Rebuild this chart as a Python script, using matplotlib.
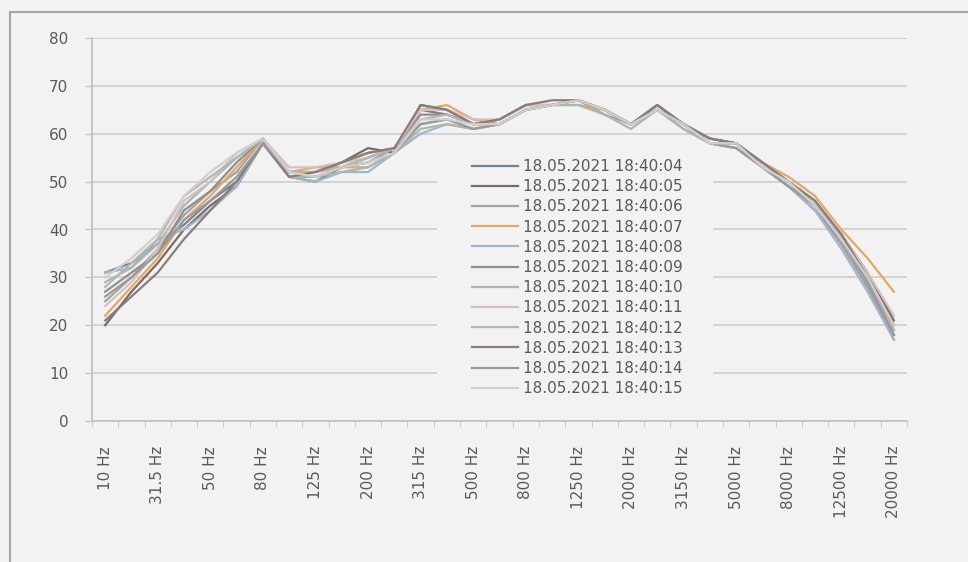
import matplotlib
matplotlib.use("Agg")
import matplotlib.pyplot as plt
from matplotlib.lines import Line2D
from matplotlib.patches import Rectangle

categories = ["10 Hz", "20 Hz", "31.5 Hz", "40 Hz", "50 Hz", "63 Hz", "80 Hz", "100 Hz",
              "125 Hz", "160 Hz", "200 Hz", "250 Hz", "315 Hz", "400 Hz", "500 Hz", "630 Hz",
              "800 Hz", "1000 Hz", "1250 Hz", "1600 Hz", "2000 Hz", "2500 Hz", "3150 Hz",
              "4000 Hz", "5000 Hz", "6300 Hz", "8000 Hz", "10000 Hz", "12500 Hz", "16000 Hz",
              "20000 Hz"]

series_names = ["18.05.2021 18:40:04", "18.05.2021 18:40:05", "18.05.2021 18:40:06",
                "18.05.2021 18:40:07", "18.05.2021 18:40:08", "18.05.2021 18:40:09",
                "18.05.2021 18:40:10", "18.05.2021 18:40:11", "18.05.2021 18:40:12",
                "18.05.2021 18:40:13", "18.05.2021 18:40:14", "18.05.2021 18:40:15"]

s01 = [31, 33, 37, 41, 46, 50, 58, 51, 50, 53, 55, 57, 65, 64, 62, 62, 65, 66, 67, 65, 62, 65, 62, 59, 58, 53, 49, 45, 37, 28, 18]
s02 = [20, 27, 33, 40, 45, 49, 58, 52, 52, 54, 57, 56, 66, 65, 62, 63, 66, 66, 67, 65, 62, 66, 62, 58, 58, 54, 50, 46, 39, 31, 21]
s03 = [25, 30, 36, 43, 48, 52, 59, 51, 51, 53, 54, 57, 62, 63, 61, 62, 65, 66, 67, 64, 62, 65, 61, 58, 57, 53, 49, 44, 37, 28, 17]
s04 = [22, 28, 34, 42, 47, 53, 59, 52, 53, 53, 53, 56, 65, 66, 63, 62, 65, 66, 66, 65, 62, 65, 62, 59, 58, 54, 51, 47, 40, 34, 27]
s05 = [31, 32, 38, 40, 44, 49, 58, 51, 50, 52, 52, 56, 60, 62, 61, 62, 65, 66, 67, 65, 62, 65, 62, 58, 58, 53, 49, 44, 36, 27, 17]
s06 = [27, 31, 35, 44, 48, 54, 59, 52, 52, 54, 56, 57, 64, 64, 62, 63, 66, 66, 67, 65, 62, 66, 62, 59, 58, 54, 50, 45, 38, 29, 19]
s07 = [29, 32, 37, 45, 50, 55, 59, 51, 51, 52, 53, 56, 61, 62, 61, 62, 65, 66, 66, 64, 61, 65, 61, 58, 57, 53, 49, 45, 38, 30, 20]
s08 = [24, 29, 36, 46, 50, 56, 59, 53, 53, 54, 55, 57, 65, 65, 63, 63, 66, 66, 67, 65, 62, 65, 62, 58, 58, 54, 50, 46, 39, 31, 22]
s09 = [28, 33, 38, 47, 51, 55, 59, 52, 52, 53, 55, 57, 63, 64, 62, 62, 65, 66, 67, 65, 62, 65, 62, 58, 58, 53, 50, 45, 38, 29, 19]
s10 = [21, 26, 31, 38, 44, 50, 58, 51, 52, 54, 56, 57, 66, 65, 62, 63, 66, 67, 67, 65, 62, 66, 62, 59, 58, 54, 50, 46, 39, 30, 20]
s11 = [26, 30, 35, 42, 46, 51, 58, 52, 51, 53, 54, 56, 62, 63, 61, 62, 65, 66, 67, 65, 62, 65, 62, 58, 57, 53, 49, 45, 38, 29, 18]
s12 = [30, 34, 39, 47, 52, 56, 59, 52, 51, 53, 54, 56, 63, 63, 62, 62, 65, 66, 67, 65, 62, 65, 62, 58, 58, 53, 50, 45, 38, 30, 20]

series_values = [s01, s02, s03, s04, s05, s06, s07, s08, s09, s10, s11, s12]

colors = ["#76818f", "#7b6a64", "#a3a3a3", "#e3a866", "#a3b4cc", "#8f8f8f",
          "#a9b8ad", "#d8bfbf", "#b5b5b5", "#8a7c78", "#9a9a9a", "#cfcfcf"]

BG = "#f2f2f2"
TXT = "#595959"

fig = plt.figure(figsize=(9.68, 5.62), dpi=100, facecolor=BG)
ax = fig.add_axes([92 / 968, (562 - 421) / 562, (907 - 92) / 968, (421 - 38) / 562])
ax.set_facecolor(BG)

x = list(range(len(categories)))
for vals, name, c in zip(series_values, series_names, colors):
    ax.plot(x, vals, color=c, lw=1.6, label=name, zorder=3, solid_joinstyle="round")

ax.set_xlim(-0.5, len(categories) - 0.5)
ax.set_ylim(0, 80)
ax.set_yticks(range(0, 81, 10))
ax.set_axisbelow(True)
ax.yaxis.grid(True, color="#d0d0d0", lw=1.3)
ax.xaxis.grid(False)

ax.set_xticks(x[::2])
ax.set_xticklabels(categories[::2], rotation=90, va="top", ha="center")
ax.set_xticks([i - 0.5 for i in range(len(categories) + 1)], minor=True)
ax.tick_params(axis="x", which="major", length=0, pad=18, labelsize=11, labelcolor=TXT)
ax.tick_params(axis="x", which="minor", length=4, color="#bfbfbf", direction="out")
ax.tick_params(axis="y", length=5, pad=12, labelsize=11, labelcolor=TXT, color="#bfbfbf")

for s in ("top", "right"):
    ax.spines[s].set_visible(False)
ax.spines["left"].set_color("#bfbfbf")
ax.spines["bottom"].set_color("#bfbfbf")
ax.spines["left"].set_linewidth(1.2)
ax.spines["bottom"].set_linewidth(1.2)

# legend background (hides gridlines behind it)
inv = ax.transAxes.inverted()
(x0, y0) = inv.transform((437, 562 - 410))
(x1, y1) = inv.transform((713, 562 - 148))
ax.add_patch(Rectangle((x0, y0), x1 - x0, y1 - y0, transform=ax.transAxes,
                       facecolor=BG, edgecolor="none", zorder=1))

leg = ax.legend(loc="upper left", bbox_to_anchor=(472 / 968, (562 - 159) / 562),
                bbox_transform=fig.transFigure, frameon=False, fontsize=11,
                handlelength=3.0, handletextpad=0.35, labelspacing=0.34,
                borderpad=0, borderaxespad=0)
for t in leg.get_texts():
    t.set_color(TXT)

# chart outer border (top and left)
fig.add_artist(Line2D([10 / 968, 1.0], [1 - 12 / 562, 1 - 12 / 562], transform=fig.transFigure,
                      color="#a6a6a6", lw=1.5))
fig.add_artist(Line2D([10 / 968, 10 / 968], [0, 1 - 12 / 562], transform=fig.transFigure,
                      color="#a6a6a6", lw=1.5))

fig.savefig("out.png", dpi=100, facecolor=BG)
